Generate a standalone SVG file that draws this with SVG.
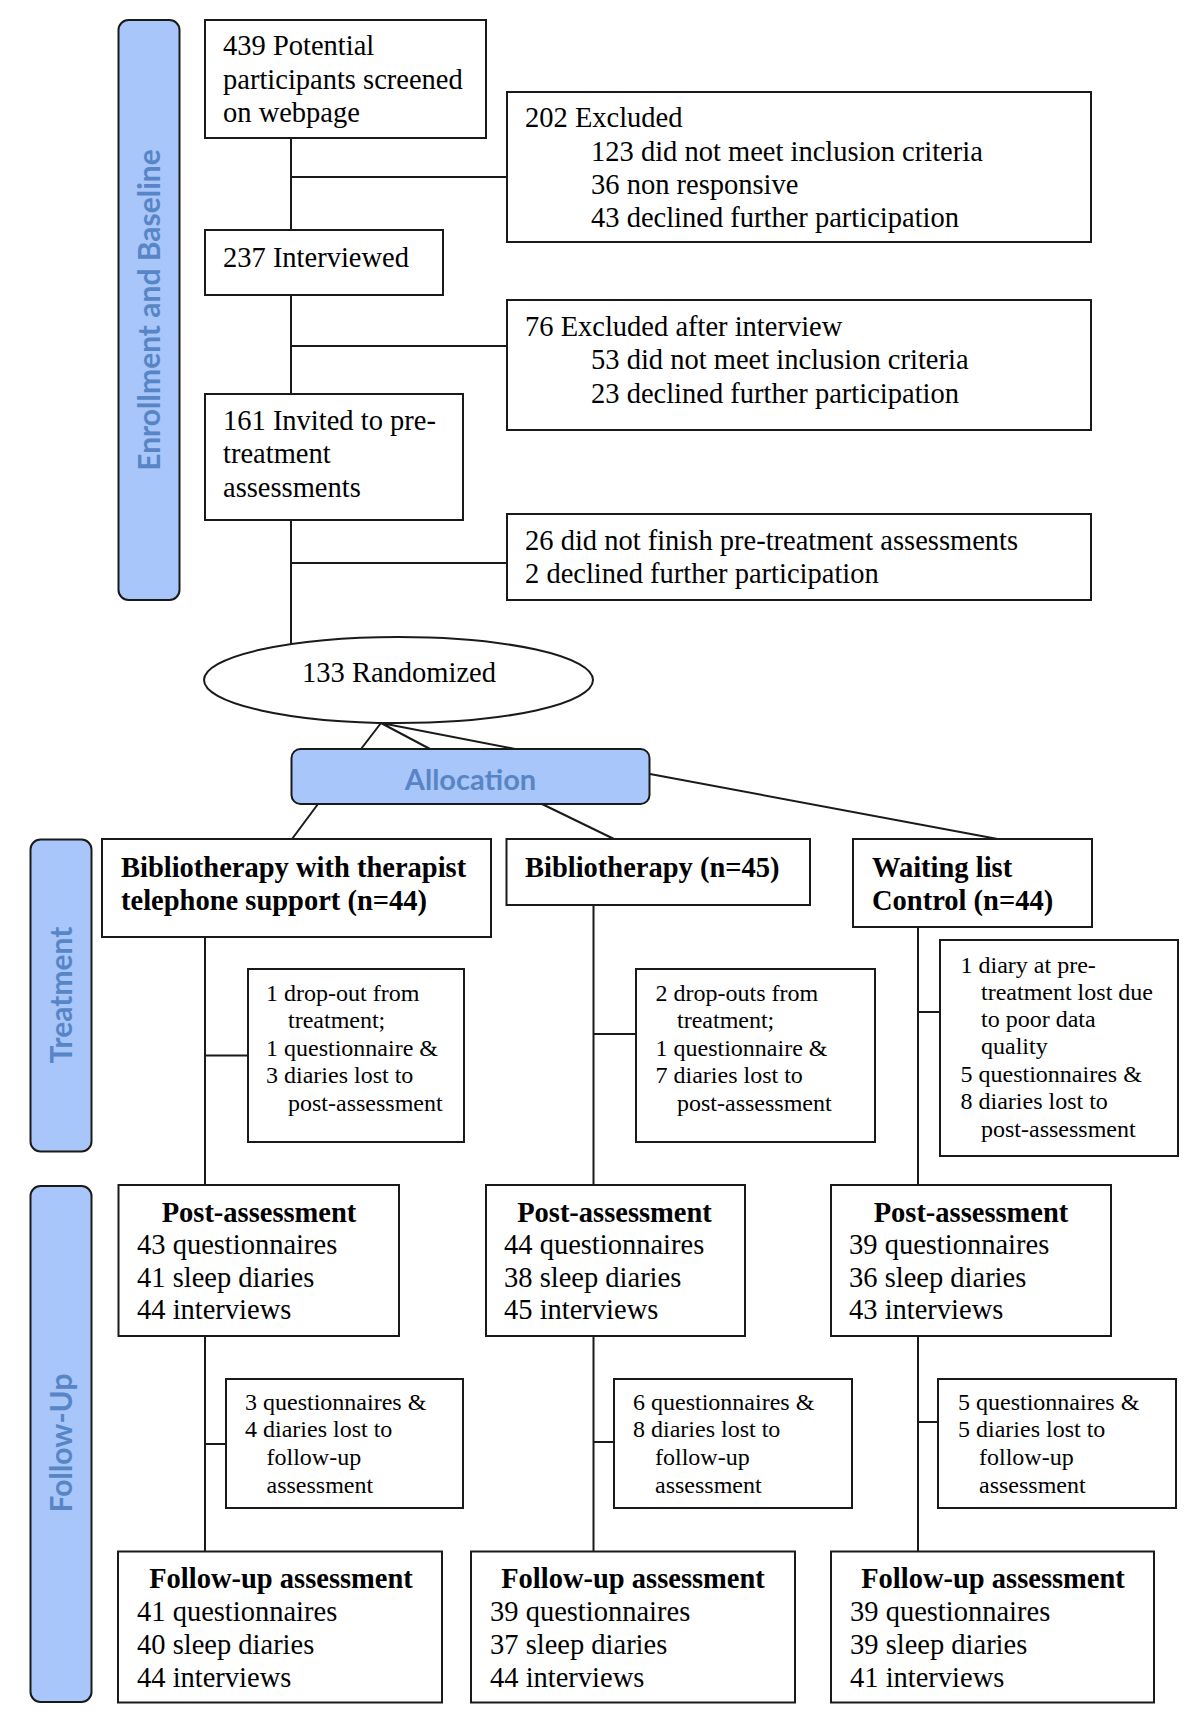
<svg xmlns="http://www.w3.org/2000/svg" width="1200" height="1727" viewBox="0 0 1200 1727">
<style>
.bx{fill:#fff;stroke:#1a1a1a;stroke-width:2}
.sb{fill:#a9c6fa;stroke:#1a1a1a;stroke-width:2}
.ln{stroke:#1a1a1a;stroke-width:2;fill:none}
.t{font-family:"Liberation Serif","Times New Roman",serif;font-size:28.5px;fill:#000}
.b{font-family:"Liberation Serif","Times New Roman",serif;font-size:28.5px;font-weight:bold;fill:#000}
.s{font-family:"Liberation Serif","Times New Roman",serif;font-size:24px;fill:#000}
.h{font-family:Lato,"Open Sans",sans-serif;font-size:30px;font-weight:bold;fill:#5785c6}
.a{font-size:29px}
.c{text-anchor:middle}
</style>
<rect width="1200" height="1727" fill="#fff"/>

<g id="connectors">
<path class="ln" d="M291 138V230M291 177H507M291 295V394M291 346H507M291 520V644M291 563H507"/>
<path class="ln" d="M381 723L361 749M381 723L430 749M381 723L515 749"/>
<path class="ln" d="M318 804L292 839M542 804L614 839M650 774L1003 840"/>
<path class="ln" d="M205 937V1185M205 1055.5H248M593.5 905V1185M593.5 1034H636M918 927V1185M918 1012H940"/>
<path class="ln" d="M205 1336V1551.5M205 1444H226M593.5 1336V1551.5M593.5 1442H614M918 1336V1551.5M918 1422H938"/>
</g>

<g id="sidebar-enrollment">
<rect class="sb" x="118.5" y="20" width="61" height="580" rx="10"/>
<text class="h c" transform="translate(149,310) rotate(-90)" y="10.5">Enrollment and Baseline</text>
</g>
<g id="sidebar-treatment">
<rect class="sb" x="30.5" y="839.5" width="61" height="312" rx="10"/>
<text class="h c" transform="translate(61,995) rotate(-90)" y="10.5">Treatment</text>
</g>
<g id="sidebar-followup">
<rect class="sb" x="30.5" y="1186" width="61" height="516" rx="10"/>
<text class="h c" transform="translate(61,1443) rotate(-90)" y="10.5">Follow-Up</text>
</g>

<g id="n-screened">
<rect class="bx" x="205" y="20" width="281" height="118"/>
<text class="t" x="223" y="55">439 Potential</text>
<text class="t" x="223" y="88.5">participants screened</text>
<text class="t" x="223" y="122">on webpage</text>
</g>
<g id="n-excluded1">
<rect class="bx" x="507" y="92" width="584" height="150"/>
<text class="t" x="525" y="127">202 Excluded</text>
<text class="t" x="591" y="160.5">123 did not meet inclusion criteria</text>
<text class="t" x="591" y="194">36 non responsive</text>
<text class="t" x="591" y="227">43 declined further participation</text>
</g>
<g id="n-interviewed">
<rect class="bx" x="205" y="230" width="238" height="65"/>
<text class="t" x="223" y="267">237 Interviewed</text>
</g>
<g id="n-excluded2">
<rect class="bx" x="507" y="300" width="584" height="130"/>
<text class="t" x="525" y="336">76 Excluded after interview</text>
<text class="t" x="591" y="369">53 did not meet inclusion criteria</text>
<text class="t" x="591" y="402.5">23 declined further participation</text>
</g>
<g id="n-invited">
<rect class="bx" x="205" y="394" width="258" height="126"/>
<text class="t" x="223" y="430">161 Invited to pre-</text>
<text class="t" x="223" y="463">treatment</text>
<text class="t" x="223" y="496.5">assessments</text>
</g>
<g id="n-excluded3">
<rect class="bx" x="507" y="514" width="584" height="86"/>
<text class="t" x="525" y="550">26 did not finish pre-treatment assessments</text>
<text class="t" x="525" y="583">2 declined further participation</text>
</g>
<g id="n-randomized">
<ellipse class="bx" cx="398.5" cy="680" rx="194.5" ry="43"/>
<text class="t c" x="399" y="682">133 Randomized</text>
</g>
<g id="n-allocation">
<rect class="sb" x="291.5" y="749" width="358" height="55" rx="9"/>
<text class="h a c" x="470.5" y="790">Allocation</text>
</g>

<g id="n-armA">
<rect class="bx" x="102" y="839" width="389" height="98"/>
<text class="b" x="121" y="877">Bibliotherapy with therapist</text>
<text class="b" x="121" y="910">telephone support (n=44)</text>
</g>
<g id="n-armB">
<rect class="bx" x="506.5" y="839" width="303.5" height="66"/>
<text class="b" x="525" y="877">Bibliotherapy (n=45)</text>
</g>
<g id="n-armC">
<rect class="bx" x="853" y="839" width="239" height="88"/>
<text class="b" x="872" y="877">Waiting list</text>
<text class="b" x="872" y="910">Control (n=44)</text>
</g>

<g id="n-lossA1">
<rect class="bx" x="248" y="969" width="216" height="173"/>
<text class="s" x="266" y="1000.5">1 drop-out from</text>
<text class="s" x="288" y="1028">treatment;</text>
<text class="s" x="266" y="1055.7">1 questionnaire &amp;</text>
<text class="s" x="266" y="1083.3">3 diaries lost to</text>
<text class="s" x="288" y="1111">post-assessment</text>
</g>
<g id="n-lossB1">
<rect class="bx" x="636" y="969" width="239" height="173"/>
<text class="s" x="655.5" y="1001">2 drop-outs from</text>
<text class="s" x="677" y="1028">treatment;</text>
<text class="s" x="655.5" y="1055.7">1 questionnaire &amp;</text>
<text class="s" x="655.5" y="1083.3">7 diaries lost to</text>
<text class="s" x="677" y="1111">post-assessment</text>
</g>
<g id="n-lossC1">
<rect class="bx" x="940" y="940" width="238" height="216"/>
<text class="s" x="960.5" y="972.7">1 diary at pre-</text>
<text class="s" x="981" y="1000">treatment lost due</text>
<text class="s" x="981" y="1027">to poor data</text>
<text class="s" x="981" y="1054">quality</text>
<text class="s" x="960.5" y="1081.7">5 questionnaires &amp;</text>
<text class="s" x="960.5" y="1109">8 diaries lost to</text>
<text class="s" x="981" y="1136.5">post-assessment</text>
</g>

<g id="n-postA">
<rect class="bx" x="118.5" y="1185" width="280.5" height="151"/>
<text class="b c" x="259" y="1221.7">Post-assessment</text>
<text class="t" x="137" y="1254">43 questionnaires</text>
<text class="t" x="137" y="1286.5">41 sleep diaries</text>
<text class="t" x="137" y="1319">44 interviews</text>
</g>
<g id="n-postB">
<rect class="bx" x="486" y="1185" width="259" height="151"/>
<text class="b c" x="614.5" y="1221.7">Post-assessment</text>
<text class="t" x="504" y="1254">44 questionnaires</text>
<text class="t" x="504" y="1286.5">38 sleep diaries</text>
<text class="t" x="504" y="1319">45 interviews</text>
</g>
<g id="n-postC">
<rect class="bx" x="831" y="1185" width="280" height="151"/>
<text class="b c" x="971" y="1221.7">Post-assessment</text>
<text class="t" x="849" y="1254">39 questionnaires</text>
<text class="t" x="849" y="1286.5">36 sleep diaries</text>
<text class="t" x="849" y="1319">43 interviews</text>
</g>

<g id="n-lossA2">
<rect class="bx" x="226" y="1379" width="237" height="129"/>
<text class="s" x="245" y="1410">3 questionnaires &amp;</text>
<text class="s" x="245" y="1437">4 diaries lost to</text>
<text class="s" x="266.5" y="1465">follow-up</text>
<text class="s" x="266.5" y="1493">assessment</text>
</g>
<g id="n-lossB2">
<rect class="bx" x="614" y="1379" width="238" height="129"/>
<text class="s" x="633" y="1410">6 questionnaires &amp;</text>
<text class="s" x="633" y="1437">8 diaries lost to</text>
<text class="s" x="655" y="1465">follow-up</text>
<text class="s" x="655" y="1493">assessment</text>
</g>
<g id="n-lossC2">
<rect class="bx" x="938" y="1379" width="238" height="129"/>
<text class="s" x="958" y="1410">5 questionnaires &amp;</text>
<text class="s" x="958" y="1437">5 diaries lost to</text>
<text class="s" x="979" y="1465">follow-up</text>
<text class="s" x="979" y="1493">assessment</text>
</g>

<g id="n-fuA">
<rect class="bx" x="118" y="1551.5" width="324" height="151"/>
<text class="b c" x="281" y="1588">Follow-up assessment</text>
<text class="t" x="137" y="1621">41 questionnaires</text>
<text class="t" x="137" y="1653.5">40 sleep diaries</text>
<text class="t" x="137" y="1686.5">44 interviews</text>
</g>
<g id="n-fuB">
<rect class="bx" x="471" y="1551.5" width="324" height="151"/>
<text class="b c" x="633" y="1588">Follow-up assessment</text>
<text class="t" x="490" y="1621">39 questionnaires</text>
<text class="t" x="490" y="1653.5">37 sleep diaries</text>
<text class="t" x="490" y="1686.5">44 interviews</text>
</g>
<g id="n-fuC">
<rect class="bx" x="831" y="1551.5" width="323" height="151"/>
<text class="b c" x="993" y="1588">Follow-up assessment</text>
<text class="t" x="850" y="1621">39 questionnaires</text>
<text class="t" x="850" y="1653.5">39 sleep diaries</text>
<text class="t" x="850" y="1686.5">41 interviews</text>
</g>
</svg>
